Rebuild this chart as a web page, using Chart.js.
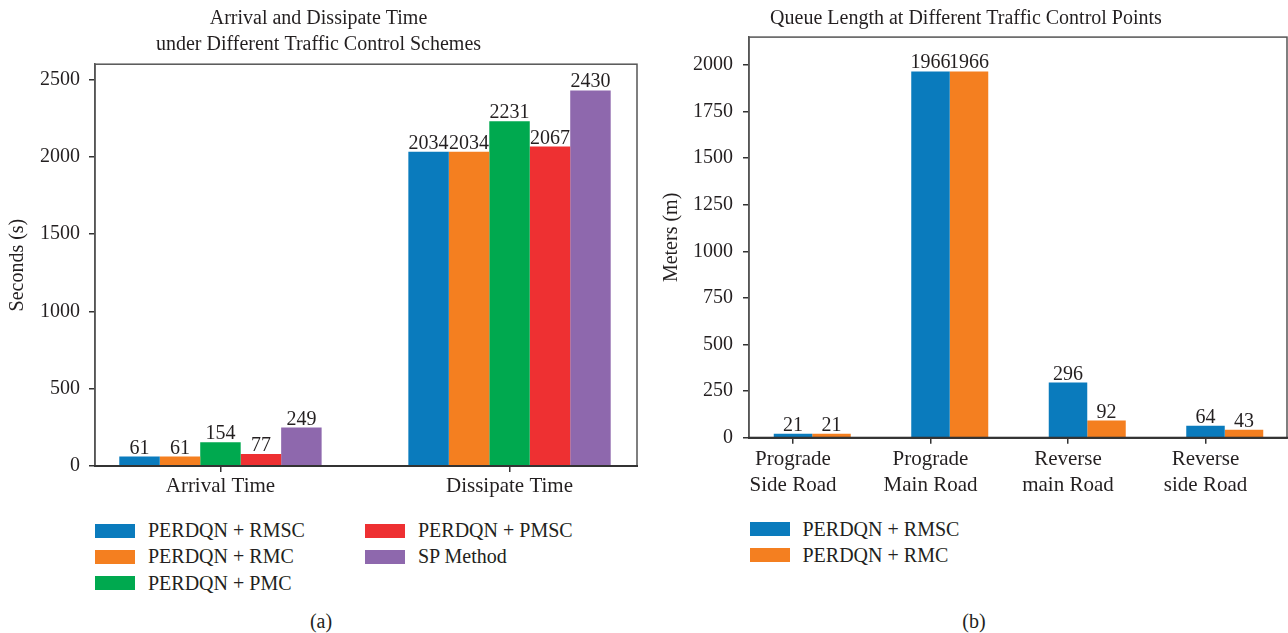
<!DOCTYPE html>
<html><head><meta charset="utf-8">
<script src="https://cdn.jsdelivr.net/npm/chart.js@4.4.1/dist/chart.umd.min.js"></script>
<style>
html,body{margin:0;padding:0;background:#fff;}
body{width:1288px;height:633px;position:relative;overflow:hidden;font-family:"Liberation Serif",serif;color:#231f20;}
canvas{position:absolute;top:0;}
#c1{left:0;}
#c2{left:645px;}
.leg{position:absolute;font-size:20px;}
.item{display:flex;align-items:center;height:26.3px;white-space:nowrap;}
.sw{width:40px;height:14px;margin-right:13px;flex:none;}
.cap{position:absolute;top:608px;font-size:20px;line-height:26px;transform:translateX(-50%);}
</style></head><body>
<canvas id="c1" width="645" height="500" style="width:645px;height:500px"></canvas>
<canvas id="c2" width="643" height="500" style="width:643px;height:500px"></canvas>
<div id="legA1" class="leg" style="left:95px;top:517.5px"></div>
<div id="legA2" class="leg" style="left:365px;top:517.5px"></div>
<div id="legB" class="leg" style="left:749.5px;top:516px"></div>
<div class="cap" style="left:321px">(a)</div>
<div class="cap" style="left:974px">(b)</div>
<script>
// ---------- data: chart (a) ----------
const categoriesA = ['Arrival Time', 'Dissipate Time'];
const seriesNamesA = ['PERDQN + RMSC', 'PERDQN + RMC', 'PERDQN + PMC', 'PERDQN + PMSC', 'SP Method'];
const rmscA = [61, 2034];
const rmcA = [61, 2034];
const pmcA = [154, 2231];
const pmscA = [77, 2067];
const spA = [249, 2430];
const yTicksA = [0, 500, 1000, 1500, 2000, 2500];

// ---------- data: chart (b) ----------
const categoriesB = [['Prograde', 'Side Road'], ['Prograde', 'Main Road'], ['Reverse', 'main Road'], ['Reverse', 'side Road']];
const seriesNamesB = ['PERDQN + RMSC', 'PERDQN + RMC'];
const rmscB = [21, 1966, 296, 64];
const rmcB = [21, 1966, 92, 43];
const yTicksB = [0, 250, 500, 750, 1000, 1250, 1500, 1750, 2000];

// ---------- styles ----------
const colors = ['#0a7bbd', '#f47f20', '#00a94f', '#ee3032', '#8e68ad'];
const FONT = '"Liberation Serif", "Times New Roman", serif';
const TXT = '#231f20';
const AXC = '#333';

const valueLabels = {
  id: 'valueLabels',
  afterDatasetsDraw(chart) {
    const ctx = chart.ctx;
    ctx.save();
    ctx.font = '20px ' + FONT;
    ctx.fillStyle = TXT;
    ctx.textAlign = 'center';
    ctx.textBaseline = 'alphabetic';
    chart.data.datasets.forEach((ds, di) => {
      chart.getDatasetMeta(di).data.forEach((bar, i) => {
        ctx.fillText(String(ds.data[i].y), bar.x, bar.y - 3);
      });
    });
    ctx.restore();
  }
};
const frame = {
  id: 'frame',
  afterDatasetsDraw(chart) {
    const {left, top, right, bottom} = chart.chartArea;
    const ctx = chart.ctx;
    ctx.save();
    ctx.strokeStyle = '#555';
    ctx.lineWidth = 1.5;
    ctx.strokeRect(left, top, right - left, bottom - top);
    ctx.strokeStyle = AXC;
    ctx.lineWidth = 2;
    ctx.beginPath(); ctx.moveTo(left - 1, bottom); ctx.lineTo(right + 1, bottom); ctx.stroke();
    ctx.restore();
  }
};

function makeChart(id, cfg) {
  const datasets = cfg.values.map((vals, k) => ({
    label: cfg.names[k],
    data: vals.map((v, i) => ({x: i, y: v})),
    backgroundColor: colors[k],
    borderWidth: 0,
    categoryPercentage: cfg.catPct,
    barPercentage: 1.0
  }));
  return new Chart(document.getElementById(id), {
    type: 'bar',
    data: {datasets},
    plugins: [frame, valueLabels],
    options: {
      responsive: false,
      animation: false,
      events: [],
      layout: {padding: cfg.pad},
      plugins: {
        legend: {display: false},
        tooltip: {enabled: false},
        title: {
          display: true, text: cfg.title, color: TXT,
          font: {family: FONT, size: 20, weight: 'normal', lineHeight: 1.33},
          padding: cfg.titlePad
        }
      },
      scales: {
        x: {
          type: 'linear', min: cfg.xmin, max: cfg.xmax, offset: false,
          afterBuildTicks: s => { s.ticks = cfg.cats.map((c, i) => ({value: i + cfg.tickShift})); },
          afterFit: s => { s.height = cfg.xh; },
          ticks: {autoSkip: false, maxRotation: 0, padding: cfg.xpad, color: TXT,
            font: {family: FONT, size: 21, lineHeight: 1.24},
            callback: (v, i) => cfg.cats[i]},
          grid: {offset: false, drawOnChartArea: false, drawTicks: true, tickLength: 6, color: AXC, lineWidth: 1.5},
          border: {display: true, color: AXC, width: 2}
        },
        y: {
          min: 0, max: cfg.ymax,
          afterBuildTicks: s => { s.ticks = cfg.yticks.map(v => ({value: v})); },
          afterFit: s => { s.width = cfg.yw; },
          ticks: {padding: cfg.ypad, color: TXT, font: {family: FONT, size: 20},
            callback: v => String(v)},
          grid: {drawOnChartArea: false, drawTicks: true, tickLength: 6, color: AXC, lineWidth: 1.5},
          border: {display: true, color: '#555', width: 1.5},
          title: {display: true, text: cfg.ytitle, color: TXT,
            font: {family: FONT, size: 20, lineHeight: 1.2}, padding: {top: cfg.ytPad, bottom: 0}}
        }
      }
    }
  });
}

makeChart('c1', {
  names: seriesNamesA, values: [rmscA, rmcA, pmcA, pmscA, spA], cats: categoriesA,
  catPct: 0.7, xmin: -0.434, xmax: 1.441, tickShift: 0, xh: 34, xpad: 1,
  ymax: 2600, yticks: yTicksA, yw: 95, ypad: 9, ytitle: 'Seconds (s)', ytPad: 6,
  title: ['Arrival and Dissipate Time', 'under Different Traffic Control Schemes'],
  titlePad: {top: 5, bottom: 6}, pad: {left: 0, right: 8, top: 0, bottom: 0}
});
makeChart('c2', {
  names: seriesNamesB, values: [rmscB, rmcB], cats: categoriesB,
  catPct: 0.56, xmin: -0.46, xmax: 3.4527, tickShift: -0.14, xh: 62.3, xpad: 3,
  ymax: 2150, yticks: yTicksB, yw: 104, ypad: 10, ytitle: 'Meters (m)', ytPad: 15,
  title: 'Queue Length at Different Traffic Control Points',
  titlePad: {top: 5, bottom: 5.5}, pad: {left: 0, right: 1, top: 0, bottom: 0}
});

function buildLegend(el, names, idx) {
  idx.forEach(k => {
    const it = document.createElement('div'); it.className = 'item';
    const sw = document.createElement('span'); sw.className = 'sw'; sw.style.background = colors[k];
    const tx = document.createElement('span'); tx.textContent = names[k];
    it.appendChild(sw); it.appendChild(tx); el.appendChild(it);
  });
}
buildLegend(document.getElementById('legA1'), seriesNamesA, [0, 1, 2]);
buildLegend(document.getElementById('legA2'), seriesNamesA, [3, 4]);
buildLegend(document.getElementById('legB'), seriesNamesB, [0, 1]);
</script>
</body></html>
